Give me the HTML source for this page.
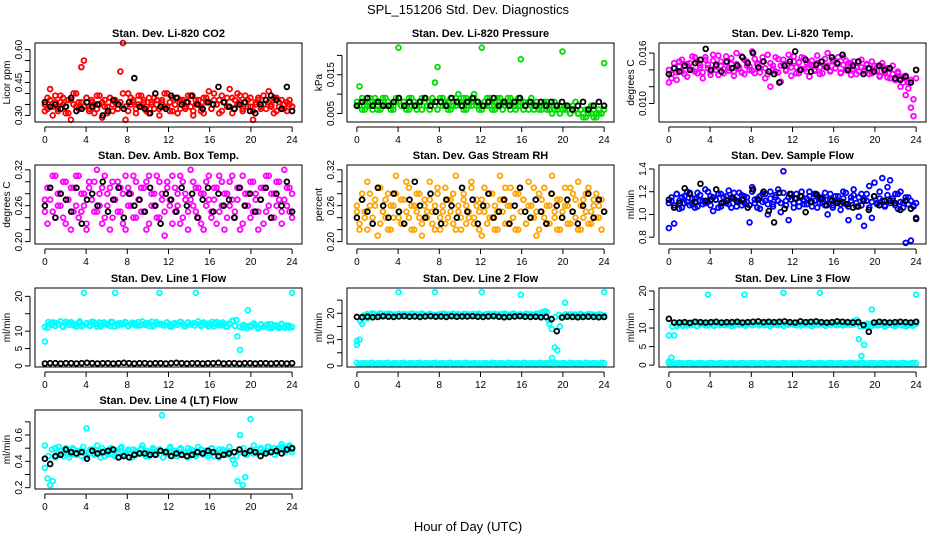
<!DOCTYPE html>
<html><head><meta charset="utf-8"><style>
html,body{margin:0;padding:0;background:#fff;}
svg{display:block;font-family:"Liberation Sans",sans-serif;}
</style></head><body>
<svg id="chart" width="936" height="540" viewBox="0 0 936 540">
<text x="468" y="14" text-anchor="middle" font-size="13">SPL_151206  Std. Dev. Diagnostics</text>
<text x="468" y="531" text-anchor="middle" font-size="13">Hour of Day (UTC)</text>
</svg>
<script>
const xTicks=[0,4,8,12,16,20,24];
const co2Red=[0.32,0.38,0.42,0.30,0.36,0.33,0.39,0.35,0.31,0.37,0.28,0.40,0.34,0.36,0.52,0.55,0.38,0.33,0.36,0.31,0.39,0.35,0.29,0.37,0.34,0.38,0.32,0.36,0.33,0.50,0.63,0.28,0.40,0.35,0.37,0.31,0.39,0.34,0.36,0.32,0.38,0.35,0.33,0.37,0.30,0.36,0.40,0.34,0.32,0.38,0.35,0.31,0.37,0.36,0.33,0.39,0.34,0.30,0.37,0.35,0.32,0.38,0.36,0.41,0.33,0.37,0.35,0.31,0.39,0.36,0.34,0.42,0.38,0.33,0.40,0.36,0.32,0.39,0.37,0.34,0.28,0.36,0.38,0.33,0.35,0.37,0.41,0.34,0.31,0.38,0.36,0.33,0.35,0.32,0.37,0.34];
const co2Red2=[0.35,0.33,0.37,0.34,0.39,0.32,0.36,0.38,0.34,0.31,0.37,0.35,0.40,0.33,0.36,0.34,0.38,0.32,0.37,0.35,0.33,0.39,0.36,0.34,0.31,0.38,0.35,0.37,0.33,0.36,0.40,0.34,0.32,0.38,0.36,0.33,0.35,0.39,0.37,0.34,0.31,0.36,0.38,0.35,0.33,0.37,0.34,0.40,0.36,0.32,0.35,0.38,0.33,0.37,0.34,0.36,0.39,0.32,0.35,0.37,0.34,0.31,0.38,0.36,0.33,0.40,0.35,0.37,0.32,0.36,0.38,0.34,0.31,0.37,0.35,0.39,0.33,0.36,0.34,0.38,0.32,0.35,0.37,0.34,0.39,0.33,0.36,0.35,0.38,0.32,0.34,0.37,0.33,0.36,0.35,0.34];
const co2Black=[0.36,0.34,0.35,0.33,0.34,0.38,0.32,0.33,0.36,0.34,0.35,0.30,0.32,0.37,0.35,0.33,0.36,0.47,0.34,0.33,0.31,0.40,0.34,0.33,0.39,0.38,0.35,0.36,0.39,0.35,0.33,0.36,0.35,0.43,0.36,0.34,0.33,0.35,0.36,0.32,0.31,0.35,0.37,0.39,0.37,0.33,0.43,0.32];
const presGreen=[0.007,0.012,0.006,0.008,0.007,0.009,0.006,0.008,0.007,0.006,0.009,0.007,0.008,0.006,0.007,0.009,0.022,0.007,0.008,0.006,0.009,0.007,0.008,0.006,0.007,0.009,0.008,0.007,0.006,0.008,0.013,0.017,0.009,0.007,0.008,0.006,0.009,0.008,0.007,0.010,0.008,0.006,0.009,0.007,0.008,0.010,0.007,0.006,0.022,0.008,0.007,0.009,0.006,0.008,0.007,0.009,0.006,0.008,0.007,0.009,0.008,0.006,0.007,0.019,0.008,0.007,0.006,0.009,0.007,0.008,0.006,0.007,0.008,0.006,0.007,0.005,0.008,0.006,0.007,0.021,0.006,0.007,0.005,0.006,0.008,0.005,0.006,0.004,0.006,0.005,0.007,0.004,0.005,0.006,0.005,0.018];
const presGreen2=[0.008,0.007,0.009,0.006,0.008,0.007,0.008,0.009,0.006,0.008,0.007,0.009,0.008,0.007,0.006,0.008,0.009,0.007,0.008,0.007,0.006,0.009,0.008,0.007,0.008,0.006,0.009,0.007,0.008,0.009,0.007,0.006,0.008,0.009,0.007,0.008,0.006,0.007,0.009,0.008,0.007,0.009,0.006,0.008,0.007,0.009,0.008,0.007,0.006,0.008,0.009,0.007,0.008,0.006,0.009,0.007,0.008,0.007,0.009,0.006,0.008,0.007,0.009,0.008,0.006,0.007,0.008,0.007,0.006,0.008,0.007,0.006,0.007,0.008,0.006,0.007,0.006,0.007,0.005,0.006,0.007,0.006,0.005,0.007,0.006,0.005,0.006,0.005,0.004,0.006,0.005,0.006,0.004,0.005,0.005,0.006];
const presBlack=[0.007,0.008,0.009,0.007,0.008,0.007,0.007,0.008,0.009,0.007,0.008,0.007,0.008,0.009,0.007,0.008,0.008,0.007,0.009,0.008,0.007,0.008,0.009,0.008,0.007,0.008,0.009,0.007,0.008,0.007,0.008,0.009,0.007,0.008,0.007,0.008,0.007,0.008,0.007,0.008,0.007,0.006,0.007,0.008,0.006,0.007,0.008,0.007];
const tempMag=[0.0125,0.0135,0.0142,0.0128,0.0150,0.0138,0.0145,0.0132,0.0148,0.0140,0.0155,0.0136,0.0146,0.0130,0.0152,0.0142,0.0138,0.0158,0.0144,0.0134,0.0150,0.0141,0.0156,0.0139,0.0147,0.0133,0.0160,0.0143,0.0137,0.0152,0.0145,0.0140,0.0162,0.0136,0.0148,0.0142,0.0155,0.0130,0.0158,0.0120,0.0145,0.0138,0.0153,0.0126,0.0147,0.0140,0.0158,0.0133,0.0150,0.0143,0.0136,0.0155,0.0141,0.0148,0.0132,0.0146,0.0139,0.0157,0.0135,0.0150,0.0144,0.0160,0.0138,0.0152,0.0142,0.0147,0.0136,0.0155,0.0140,0.0148,0.0134,0.0150,0.0143,0.0138,0.0152,0.0140,0.0146,0.0135,0.0150,0.0138,0.0144,0.0132,0.0148,0.0136,0.0142,0.0130,0.0145,0.0128,0.0138,0.0120,0.0132,0.0110,0.0125,0.0095,0.0085,0.0140];
const tempMag2=[0.0140,0.0130,0.0148,0.0137,0.0144,0.0152,0.0135,0.0147,0.0141,0.0156,0.0138,0.0150,0.0143,0.0137,0.0155,0.0146,0.0134,0.0151,0.0140,0.0157,0.0145,0.0136,0.0149,0.0142,0.0154,0.0138,0.0147,0.0141,0.0156,0.0135,0.0150,0.0144,0.0139,0.0153,0.0146,0.0137,0.0150,0.0142,0.0135,0.0148,0.0141,0.0155,0.0137,0.0145,0.0152,0.0139,0.0147,0.0143,0.0156,0.0136,0.0149,0.0141,0.0154,0.0138,0.0146,0.0151,0.0140,0.0148,0.0143,0.0136,0.0153,0.0145,0.0139,0.0150,0.0142,0.0155,0.0137,0.0146,0.0151,0.0139,0.0148,0.0141,0.0135,0.0150,0.0143,0.0138,0.0147,0.0141,0.0136,0.0145,0.0139,0.0133,0.0144,0.0138,0.0131,0.0141,0.0135,0.0128,0.0136,0.0130,0.0125,0.0133,0.0118,0.0128,0.0105,0.0130];
const tempBlack=[0.0135,0.0142,0.0138,0.0145,0.0140,0.0148,0.0152,0.0165,0.0140,0.0146,0.0138,0.0150,0.0142,0.0145,0.0155,0.0148,0.0160,0.0143,0.0150,0.0138,0.0135,0.0125,0.0145,0.0150,0.0162,0.0140,0.0152,0.0138,0.0146,0.0150,0.0143,0.0155,0.0148,0.0158,0.0140,0.0145,0.0150,0.0135,0.0142,0.0138,0.0145,0.0140,0.0142,0.0130,0.0128,0.0132,0.0125,0.0140];
const ambMag=[0.27,0.23,0.29,0.25,0.31,0.26,0.28,0.24,0.30,0.27,0.22,0.29,0.26,0.31,0.25,0.28,0.23,0.30,0.27,0.25,0.32,0.26,0.29,0.24,0.28,0.22,0.30,0.27,0.25,0.29,0.23,0.31,0.26,0.28,0.24,0.30,0.27,0.25,0.29,0.22,0.31,0.26,0.28,0.24,0.30,0.27,0.21,0.29,0.26,0.31,0.25,0.28,0.23,0.30,0.27,0.25,0.32,0.26,0.29,0.24,0.28,0.22,0.30,0.27,0.25,0.29,0.23,0.31,0.26,0.28,0.24,0.30,0.27,0.25,0.29,0.22,0.31,0.26,0.28,0.24,0.30,0.27,0.25,0.29,0.23,0.31,0.26,0.28,0.24,0.30,0.27,0.25,0.32,0.26,0.29,0.24];
const ambMag2=[0.25,0.29,0.27,0.31,0.24,0.28,0.26,0.30,0.23,0.27,0.29,0.25,0.31,0.24,0.28,0.26,0.22,0.29,0.27,0.30,0.25,0.28,0.23,0.31,0.26,0.29,0.24,0.27,0.30,0.25,0.28,0.22,0.29,0.26,0.31,0.24,0.27,0.29,0.25,0.30,0.23,0.28,0.26,0.31,0.24,0.28,0.25,0.30,0.27,0.23,0.29,0.26,0.31,0.24,0.28,0.22,0.27,0.30,0.25,0.29,0.23,0.28,0.26,0.31,0.24,0.27,0.29,0.25,0.30,0.22,0.28,0.26,0.31,0.24,0.27,0.29,0.23,0.28,0.26,0.30,0.25,0.28,0.22,0.27,0.29,0.25,0.31,0.24,0.28,0.26,0.30,0.23,0.27,0.29,0.25,0.28];
const ambBlack=[0.26,0.29,0.24,0.28,0.27,0.25,0.29,0.23,0.27,0.28,0.26,0.30,0.25,0.27,0.29,0.24,0.28,0.26,0.27,0.25,0.29,0.26,0.23,0.28,0.27,0.25,0.29,0.26,0.28,0.24,0.27,0.29,0.25,0.28,0.26,0.27,0.24,0.29,0.26,0.28,0.25,0.27,0.29,0.24,0.28,0.26,0.30,0.25];
const rhOrange=[0.25,0.22,0.28,0.24,0.30,0.26,0.23,0.27,0.21,0.29,0.25,0.24,0.28,0.22,0.26,0.31,0.24,0.27,0.23,0.25,0.29,0.22,0.26,0.28,0.24,0.21,0.27,0.25,0.30,0.23,0.26,0.28,0.22,0.25,0.29,0.24,0.27,0.23,0.31,0.25,0.22,0.28,0.26,0.24,0.30,0.23,0.27,0.25,0.21,0.29,0.26,0.24,0.28,0.22,0.25,0.31,0.27,0.23,0.26,0.29,0.24,0.22,0.28,0.25,0.27,0.23,0.30,0.26,0.24,0.21,0.28,0.25,0.29,0.23,0.26,0.31,0.24,0.27,0.22,0.25,0.29,0.26,0.23,0.28,0.24,0.30,0.22,0.27,0.25,0.29,0.23,0.26,0.28,0.24,0.27,0.25];
const rhOrange2=[0.26,0.23,0.27,0.25,0.22,0.28,0.24,0.26,0.29,0.23,0.25,0.27,0.22,0.26,0.24,0.28,0.25,0.23,0.27,0.30,0.24,0.26,0.22,0.25,0.28,0.23,0.26,0.24,0.27,0.25,0.22,0.29,0.24,0.26,0.23,0.27,0.25,0.28,0.22,0.26,0.24,0.27,0.23,0.25,0.29,0.24,0.26,0.22,0.27,0.25,0.23,0.28,0.24,0.26,0.22,0.27,0.25,0.29,0.23,0.26,0.24,0.28,0.22,0.25,0.27,0.23,0.26,0.24,0.29,0.25,0.22,0.27,0.24,0.26,0.23,0.28,0.25,0.22,0.27,0.24,0.26,0.23,0.29,0.25,0.27,0.22,0.26,0.24,0.28,0.23,0.25,0.27,0.24,0.26,0.22,0.25];
const rhBlack=[0.24,0.27,0.25,0.23,0.29,0.26,0.24,0.28,0.25,0.23,0.27,0.30,0.26,0.24,0.28,0.25,0.23,0.27,0.26,0.24,0.29,0.25,0.27,0.23,0.26,0.28,0.24,0.25,0.27,0.23,0.26,0.29,0.25,0.24,0.27,0.25,0.23,0.28,0.26,0.24,0.27,0.25,0.23,0.26,0.28,0.24,0.27,0.25];
const flowBlue=[0.88,1.12,0.92,1.18,1.05,1.15,1.10,1.20,1.08,1.14,1.06,1.19,1.12,1.09,1.22,1.11,1.16,1.03,1.13,1.18,1.07,1.15,1.10,1.21,1.06,1.14,1.12,1.19,1.08,1.16,1.11,0.93,1.24,1.10,1.14,1.05,1.18,1.12,1.00,1.20,1.09,1.15,1.22,1.02,1.38,1.12,0.95,1.18,1.10,1.14,1.07,1.20,1.12,1.09,1.16,1.11,1.18,1.06,1.14,1.10,1.19,1.00,1.13,1.08,1.16,1.11,1.04,1.20,1.09,0.95,1.15,1.22,1.07,0.98,1.18,0.90,1.12,1.25,0.97,1.28,1.10,1.14,1.32,1.08,1.24,1.30,1.12,1.18,1.05,1.20,1.10,0.75,1.15,0.77,1.08,0.97];
const flowBlue2=[1.10,1.15,1.08,1.18,1.12,1.06,1.16,1.11,1.19,1.09,1.14,1.07,1.17,1.12,1.10,1.20,1.08,1.15,1.13,1.06,1.18,1.11,1.16,1.09,1.14,1.19,1.07,1.12,1.17,1.10,1.15,1.08,1.20,1.13,1.06,1.16,1.11,1.18,1.09,1.14,1.07,1.17,1.12,1.10,1.19,1.08,1.15,1.13,1.06,1.18,1.11,1.16,1.09,1.14,1.20,1.07,1.12,1.17,1.10,1.15,1.08,1.13,1.18,1.06,1.11,1.16,1.09,1.14,1.19,1.07,1.12,1.17,1.10,1.15,1.08,1.13,1.18,1.06,1.11,1.16,1.09,1.20,1.12,1.07,1.17,1.10,1.14,1.08,1.18,1.11,1.06,1.15,1.09,1.12,1.07,1.10];
const flowBlack=[1.13,1.06,1.10,1.23,1.18,1.11,1.27,1.12,1.13,1.22,1.10,1.12,1.15,1.11,1.13,1.06,1.22,1.13,1.20,1.03,0.93,1.19,1.05,1.18,1.14,1.16,1.02,1.11,1.18,1.14,1.08,1.12,1.10,1.11,1.09,1.06,1.07,1.12,1.04,1.16,1.08,1.12,1.12,1.10,1.04,1.12,1.05,0.96];
const line1Cyan=[7,11,12,12.5,11.5,12,12.8,11.2,12.1,11.9,12.6,11.7,12,12.4,11.4,21,12.1,11.6,12.7,12,11.3,12.5,11.9,12.1,12,11.5,12.6,21,11.6,12.3,12,12.5,11.4,12,12.4,11.6,12.6,11.8,12,12.3,11.5,12.7,11.8,12,21,12.1,11.6,12.5,12,11.4,12.3,11.9,12.6,12,11.4,12.5,11.9,12.3,21,12,11.5,12.5,11.8,12.2,12,11.4,12.6,12,11.7,12.1,11.3,12,13,11.5,8.5,4.6,11,11.5,16,11.2,12,11.6,10.8,12,11.2,11.7,11,12,11.3,11.6,10.9,12,11.2,11.6,11,21];
const line1Cyan2=[11.2,12.6,11.8,12.4,12.0,11.4,12.7,11.9,12.2,11.3,12.8,11.7,12.3,11.5,12.6,12.0,11.4,12.5,11.8,12.7,11.3,12.2,11.9,12.6,11.5,12.4,12.1,11.6,12.8,11.8,12.3,11.4,12.6,12.0,11.7,12.5,11.3,12.2,11.9,12.7,11.5,12.4,12.0,11.6,12.8,11.8,12.3,11.4,12.6,12.1,11.7,12.5,11.3,12.2,12.9,13.2,11.2,11.8,10.9,11.6,12.2,11.1,11.9,11.4,12.0,10.9,11.7,11.3,12.1,11.0,11.6,11.2];
const line1Black=[0.7,0.8,0.8,0.7,0.8,0.8,0.7,0.8,0.9,0.8,0.7,0.8,0.8,0.7,0.8,0.9,0.8,0.7,0.8,0.8,0.7,0.8,0.8,0.7,0.8,0.9,0.8,0.7,0.8,0.8,0.7,0.8,0.8,0.9,0.7,0.8,0.8,0.7,0.8,0.8,0.7,0.8,0.8,0.7,0.8,0.8,0.7,0.8];
const line2Cyan=[8,10,16,19,18,19.5,20,19,19.5,20,18.8,19.6,19.2,19.8,19,19.5,28,19.3,19.7,19,19.5,19.8,19.1,19.6,19.2,19.9,19,19.4,19.7,19,28,19.5,19.2,19.8,19.1,19.6,19.3,19.9,19,19.5,19.2,19.7,19.1,19.6,19.4,19.8,19,19.5,28,19.3,19.7,19,19.5,19.8,19.1,19.6,19.2,19.9,19,19.4,19.7,19,19.5,27,19.2,19.8,19.1,19.6,19.3,19.9,19,19.5,20,20.5,16,3,7,6,15,19,24,19.2,19.6,19.1,19.5,19.3,19.8,19,19.4,19.7,19.1,19.5,19.2,19.6,19,28];
const line2Cyan2=[9.5,17,19.2,19.7,19.1,19.8,19.4,19.0,19.6,19.9,19.2,19.5,19.8,19.1,19.6,19.3,19.9,19.0,19.5,19.7,19.2,19.8,19.4,19.1,19.6,19.9,19.3,19.5,19.0,19.7,19.4,19.8,19.2,19.6,19.1,19.9,19.3,19.5,19.8,19.0,19.6,19.4,19.7,19.2,19.5,19.9,19.1,19.6,19.3,19.8,19.4,19.0,19.7,20.3,20.8,17.5,14,18.6,19.4,19.0,19.6,19.2,19.5,19.0,19.7,19.3,19.1,19.6,19.4,19.0,19.5,19.2];
const line2Base=[1.2,0.8,1.0,1.1,0.9,1.0,1.2,0.8,1.0,1.1,0.9,1.0,1.2,0.8,1.0,1.1,0.9,1.0,1.2,0.8,1.0,1.1,0.9,1.0,1.2,0.8,1.0,1.1,0.9,1.0,1.2,0.8,1.0,1.1,0.9,1.0,1.2,0.8,1.0,1.1,0.9,1.0,1.2,0.8,1.0,1.1,0.9,1.0,0.9,1.1,1.0,0.8,1.2,1.0,0.9,1.1,1.0,0.8,1.2,1.0,0.9,1.1,1.0,0.8,1.2,1.0,0.9,1.1,1.0,0.8,1.2,1.0,0.9,1.1,1.0,0.8,1.2,1.0,0.9,1.1,1.0,0.8,1.2,1.0,0.9,1.1,1.0,0.8,1.2,1.0,0.9,1.1,1.0,0.8,1.2,1.0];
const line2Black=[18.6,18.5,18.7,18.5,18.6,18.9,18.7,18.6,18.8,18.9,18.7,18.8,18.6,18.8,18.9,18.7,18.8,18.6,18.9,18.7,18.8,18.8,18.9,18.7,18.6,18.8,18.9,18.7,18.5,18.6,18.8,18.9,18.7,18.6,18.7,18.5,18.6,17.8,13.2,18.4,18.7,18.6,18.5,18.6,18.7,18.6,18.5,18.6];
const line3Cyan=[1,2,8,10.5,11,10.8,11.3,10.7,11.1,10.9,11.4,10.6,11,11.2,10.8,19,11.1,10.7,11.3,11,10.8,11.2,10.9,11.1,11,10.7,11.3,11,10.9,19,11,11.2,10.8,11,11.1,10.9,11.2,10.8,11,11.1,10.9,11.3,10.8,11,19.5,11.1,10.9,11.2,11,10.8,11.1,10.9,11.3,11,10.8,11.2,10.9,11.1,19.5,11,10.7,11.2,10.9,11.1,11,10.8,11.2,11,10.9,11.1,10.8,11,11.5,7,2.5,5.5,10.5,11,15,10.9,11.1,11,10.8,11.2,10.9,11,10.7,11.1,10.9,11,10.8,11.1,10.7,11,10.8,19];
const line3Cyan2=[8,10.4,10.9,11.5,10.6,11.2,10.8,11.6,10.5,11.1,11.4,10.7,11.3,10.6,11.0,11.5,10.8,11.2,10.5,11.4,10.9,11.1,10.6,11.5,10.8,11.3,10.7,11.0,11.6,10.5,11.2,10.9,11.4,10.6,11.1,11.5,10.8,11.3,10.7,11.0,11.6,10.5,11.2,10.9,11.4,10.6,11.1,11.5,10.8,11.3,10.7,11.0,11.4,11.8,12.2,10.4,10.6,11.2,10.5,11.0,10.7,11.3,10.4,10.9,11.1,10.5,11.2,10.8,10.4,11.0,10.6,11.1];
const line3Base=[0.5,0.6,0.4,0.5,0.6,0.5,0.4,0.5,0.6,0.5,0.4,0.5,0.6,0.5,0.4,0.5,0.6,0.5,0.4,0.5,0.6,0.5,0.4,0.5,0.6,0.5,0.4,0.5,0.6,0.5,0.4,0.5,0.6,0.5,0.4,0.5,0.6,0.5,0.4,0.5,0.6,0.5,0.4,0.5,0.6,0.5,0.4,0.5,0.5,0.4,0.6,0.5,0.4,0.5,0.6,0.5,0.4,0.5,0.6,0.5,0.4,0.5,0.6,0.5,0.4,0.5,0.6,0.5,0.4,0.5,0.6,0.5,0.4,0.5,0.6,0.5,0.4,0.5,0.6,0.5,0.4,0.5,0.6,0.5,0.4,0.5,0.6,0.5,0.4,0.5,0.6,0.5,0.4,0.5,0.6,0.5];
const line3Black=[12.5,11.5,11.5,11.6,11.4,11.7,11.6,11.5,11.6,11.7,11.5,11.6,11.6,11.7,11.5,11.6,11.7,11.8,11.6,11.7,11.6,11.7,11.8,11.6,11.5,11.8,11.6,11.7,11.8,11.6,11.5,11.6,11.8,11.7,11.6,11.5,11.6,10.8,9,11.5,11.7,11.6,11.5,11.6,11.7,11.6,11.5,11.7];
const line4Cyan=[0.35,0.27,0.22,0.25,0.5,0.46,0.48,0.44,0.5,0.47,0.45,0.49,0.46,0.48,0.44,0.47,0.65,0.46,0.49,0.45,0.48,0.46,0.5,0.44,0.47,0.49,0.45,0.48,0.46,0.5,0.44,0.47,0.48,0.46,0.49,0.45,0.47,0.5,0.46,0.48,0.44,0.47,0.49,0.45,0.48,0.75,0.47,0.46,0.5,0.44,0.48,0.46,0.49,0.45,0.47,0.5,0.46,0.48,0.44,0.47,0.49,0.45,0.48,0.46,0.5,0.44,0.47,0.49,0.46,0.48,0.45,0.47,0.44,0.38,0.25,0.6,0.22,0.28,0.47,0.72,0.46,0.49,0.47,0.5,0.48,0.46,0.51,0.48,0.5,0.47,0.49,0.51,0.48,0.5,0.52,0.47];
const line4Cyan2=[0.52,0.44,0.49,0.43,0.51,0.46,0.48,0.43,0.50,0.45,0.47,0.51,0.44,0.49,0.46,0.52,0.43,0.48,0.45,0.50,0.44,0.47,0.51,0.45,0.49,0.43,0.48,0.46,0.52,0.44,0.47,0.50,0.45,0.49,0.43,0.48,0.51,0.46,0.44,0.50,0.47,0.43,0.49,0.45,0.51,0.46,0.48,0.44,0.50,0.47,0.43,0.49,0.46,0.51,0.41,0.44,0.47,0.50,0.45,0.48,0.52,0.46,0.49,0.47,0.51,0.48,0.45,0.50,0.53,0.47,0.51,0.49];
const line4Black=[0.42,0.38,0.44,0.45,0.49,0.47,0.46,0.47,0.42,0.48,0.46,0.47,0.48,0.49,0.43,0.44,0.43,0.45,0.46,0.46,0.45,0.45,0.48,0.47,0.44,0.46,0.45,0.44,0.45,0.47,0.46,0.48,0.47,0.44,0.45,0.46,0.47,0.49,0.46,0.48,0.47,0.44,0.46,0.47,0.48,0.46,0.49,0.50];

const cols=[35,347,659], rows=[43,165,288,410], W=267, H=79;
const panels=[
 {name:'co2',title:'Stan. Dev. Li-820 CO2',yl:'Licor ppm',c:0,r:0,ymin:0.27,ymax:0.63,ticks:[0.30,0.35,0.40,0.45,0.50,0.55,0.60],labels:['0.30','','','0.45','','','0.60'],series:[[co2Red,'#ff0000'],[co2Red2,'#ff0000'],[co2Black,'#000']]},
 {name:'pressure',title:'Stan. Dev. Li-820 Pressure',yl:'kPa',c:1,r:0,ymin:0.0028,ymax:0.0232,ticks:[0.005,0.010,0.015,0.020],labels:['0.005','','0.015',''],series:[[presGreen,'#00dd00'],[presGreen2,'#00dd00'],[presBlack,'#000']]},
 {name:'licor-temp',title:'Stan. Dev. Li-820 Temp.',yl:'degrees C',c:2,r:0,ymin:0.0078,ymax:0.0172,ticks:[0.010,0.012,0.014,0.016],labels:['0.010','','','0.016'],series:[[tempMag,'#ff00ff'],[tempMag2,'#ff00ff'],[tempBlack,'#000']]},
 {name:'amb-temp',title:'Stan. Dev. Amb. Box Temp.',yl:'degrees C',c:0,r:1,ymin:0.196,ymax:0.328,ticks:[0.20,0.22,0.24,0.26,0.28,0.30,0.32],labels:['0.20','','','0.26','','','0.32'],series:[[ambMag,'#ff00ff'],[ambMag2,'#ff00ff'],[ambBlack,'#000']]},
 {name:'gas-rh',title:'Stan. Dev. Gas Stream RH',yl:'percent',c:1,r:1,ymin:0.196,ymax:0.328,ticks:[0.20,0.22,0.24,0.26,0.28,0.30,0.32],labels:['0.20','','','0.26','','','0.32'],series:[[rhOrange,'#ffa500'],[rhOrange2,'#ffa500'],[rhBlack,'#000']]},
 {name:'sample-flow',title:'Stan. Dev. Sample Flow',yl:'ml/min',c:2,r:1,ymin:0.74,ymax:1.435,ticks:[0.8,1.0,1.2,1.4],labels:['0.8','1.0','1.2','1.4'],series:[[flowBlue,'#0000ff'],[flowBlue2,'#0000ff'],[flowBlack,'#000']]},
 {name:'line1-flow',title:'Stan. Dev. Line 1 Flow',yl:'ml/min',c:0,r:2,ymin:-0.3,ymax:22.4,ticks:[0,5,10,15,20],labels:['0','5','10','','20'],series:[[line1Cyan,'#00ffff'],[line1Cyan2,'#00ffff'],[line1Black,'#000']]},
 {name:'line2-flow',title:'Stan. Dev. Line 2 Flow',yl:'ml/min',c:1,r:2,ymin:-0.4,ymax:29.6,ticks:[0,5,10,15,20,25],labels:['0','','10','','20',''],series:[[line2Cyan,'#00ffff'],[line2Cyan2,'#00ffff'],[line2Base,'#00ffff'],[line2Black,'#000']]},
 {name:'line3-flow',title:'Stan. Dev. Line 3 Flow',yl:'ml/min',c:2,r:2,ymin:-0.5,ymax:20.8,ticks:[0,5,10,15,20],labels:['0','5','10','','20'],series:[[line3Cyan,'#00ffff'],[line3Cyan2,'#00ffff'],[line3Base,'#00ffff'],[line3Black,'#000']]},
 {name:'line4-flow',title:'Stan. Dev. Line 4 (LT) Flow',yl:'ml/min',c:0,r:3,ymin:0.19,ymax:0.79,ticks:[0.2,0.3,0.4,0.5,0.6,0.7],labels:['0.2','','0.4','','0.6',''],series:[[line4Cyan,'#00ffff'],[line4Cyan2,'#00ffff'],[line4Black,'#000']]}
];
const NS='http://www.w3.org/2000/svg', svg=document.getElementById('chart');
function mk(tag,attrs,parent,txt){const e=document.createElementNS(NS,tag);for(const k in attrs)e.setAttribute(k,attrs[k]);if(txt!==undefined)e.textContent=txt;parent.appendChild(e);return e;}
panels.forEach(p=>{
 const L=cols[p.c],T=rows[p.r],B=T+H;
 const g=mk('g',{},svg);
 
 
 const xs=h=>L+W*(h+0.96)/25.92;
 const ys=v=>B-H*(v-p.ymin)/(p.ymax-p.ymin);
 const t=mk('text',{x:L+W/2,y:T-6,'text-anchor':'middle','font-size':11,'font-weight':'bold'},g,p.title);
 
 
 const yl=mk('text',{transform:`translate(${L-25},${T+H/2}) rotate(-90)`,'text-anchor':'middle','font-size':10},g,p.yl);
 
 
 p.series.forEach(([arr,col])=>{
  const n=arr.length;
  arr.forEach((v,i)=>{
   const c=mk('circle',{cx:xs(i*24/(n-1)),cy:ys(v),r:2.4,fill:'none',stroke:col,'stroke-width':1.8},g);
   
   
  });
 });
 const box=mk('rect',{x:L,y:T,width:W,height:H,fill:'none',stroke:'#000','stroke-width':1},g);
 
 
 mk('line',{x1:xs(0),x2:xs(24),y1:B+5,y2:B+5,stroke:'#000'},g);
 xTicks.forEach(h=>{
  mk('line',{x1:xs(h),x2:xs(h),y1:B+5,y2:B+10,stroke:'#000'},g);
  const tx=mk('text',{x:xs(h),y:B+21,'text-anchor':'middle','font-size':10},g,String(h));
  
  
 });
 mk('line',{x1:L-5,x2:L-5,y1:ys(p.ticks[0]),y2:ys(p.ticks[p.ticks.length-1]),stroke:'#000'},g);
 p.ticks.forEach((v,i)=>{
  mk('line',{x1:L-10,x2:L-5,y1:ys(v),y2:ys(v),stroke:'#000'},g);
  if(p.labels[i]){
   const tl=mk('text',{transform:`translate(${L-13},${ys(v)}) rotate(-90)`,'text-anchor':'middle','font-size':10},g,p.labels[i]);
   
   
  }
 });
});
</script>
</body></html>
